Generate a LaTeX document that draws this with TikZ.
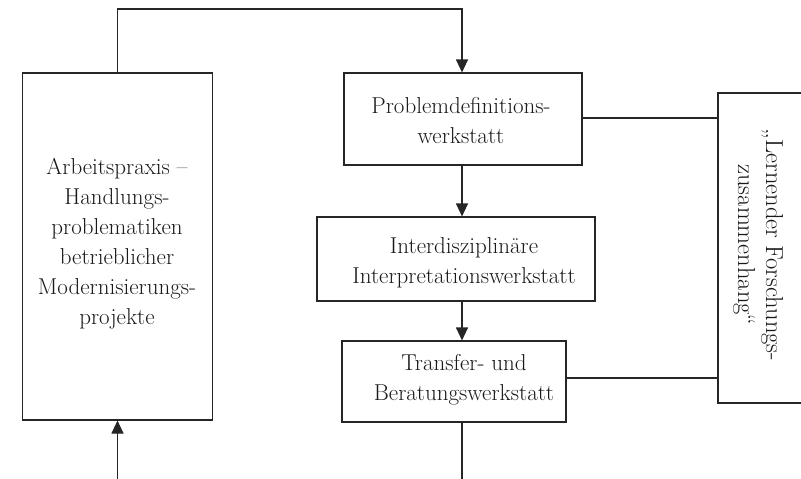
\documentclass[tikz,border=0pt]{standalone}
\usetikzlibrary{arrows.meta}
\begin{document}
\begin{tikzpicture}[x={(1pt,0)},y={(0,-1pt)},
  line/.style={draw=black!85,line width=1.1pt},
  arr/.style={line,-{Triangle[length=13pt,width=12pt]}},
  box/.style={line,rectangle,inner sep=0pt},
  txt/.style={inner sep=0pt,align=center,font=\fontsize{23}{30}\selectfont,text=black!90}]
\useasboundingbox (0,0) rectangle (801,479);
% boxes
\node[box,minimum width=190pt,minimum height=347pt] (L) at (117.5,246.5) {};
\node[box,minimum width=238pt,minimum height=92pt] (P) at (463,119) {};
\node[box,minimum width=278pt,minimum height=84pt] (I) at (456,259) {};
\node[box,minimum width=224pt,minimum height=81pt] (T) at (454,381.5) {};
\node[box,minimum width=170pt,minimum height=310pt] (R) at (803,248) {};
% texts
\node[txt] (Lt) at (117,244) {Arbeitspraxis --\\Handlungs-\\problematiken\\betrieblicher\\Modernisierungs-\\projekte};
\node[txt] (Pt) at (461,121) {Problemdefinitions-\\werkstatt};
\node[txt] (It) at (464,263) {Interdisziplinäre\\Interpretationswerkstatt};
\node[txt] (Tt) at (464,380) {Transfer- und\\Beratungswerkstatt};
\node[txt,font=\fontsize{24.5}{28}\selectfont,rotate=-90] (Rt) at (758,245) {„Lernender Forschungs-\\zusammenhang“};
% coordinates
\coordinate (top) at (300,9);
\coordinate (lb) at (117.5,479);
\coordinate (bot) at (462,479);
\coordinate (ax) at (462,0);
% connectors
\draw[arr] (L.north) |- (top) -| (ax |- P.north);
\draw[arr] (ax |- P.south) -- (ax |- I.north);
\draw[arr] (ax |- I.south) -- (ax |- T.north);
\draw[line] (ax |- T.south) -- (bot);
\draw[arr] (lb) -- (L.south);
\draw[line] ([yshift=1pt]P.east) -- ([yshift=1pt]P.east -| R.west);
\draw[line] ([yshift=3.5pt]T.east) -- ([yshift=3.5pt]T.east -| R.west);
\end{tikzpicture}
\end{document}
